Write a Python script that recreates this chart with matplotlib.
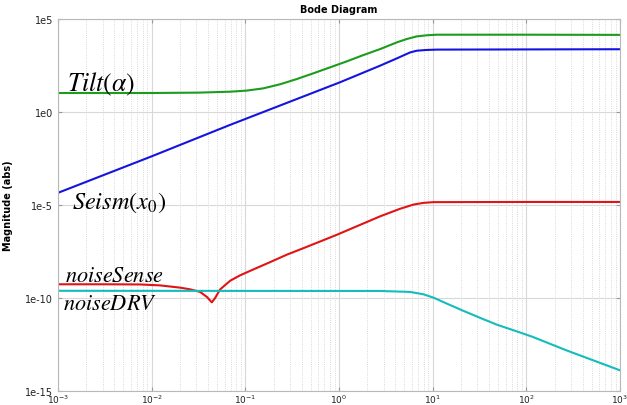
import numpy as np
import matplotlib
matplotlib.use("Agg")
from matplotlib import pyplot as plt
from matplotlib import ticker

# values, as log10(frequency) and log10(magnitude)
tilt_logf = [-3.0, -2.0, -1.5, -1.162, -0.984, -0.807, -0.628, -0.45, -0.272, -0.094,
             0.084, 0.262, 0.44, 0.618, 0.725, 0.83, 0.94, 1.045, 2.0, 3.0]
tilt_logm = [1.0, 1.0, 1.02, 1.07, 1.13, 1.25, 1.47, 1.75, 2.06, 2.38,
             2.70, 3.04, 3.36, 3.72, 3.90, 4.04, 4.10, 4.13, 4.13, 4.12]

seism_logf = [-3.0, -2.0, -1.162, -0.5, 0.013, 0.44, 0.618, 0.76, 0.83, 0.93, 1.05, 2.0, 3.0]
seism_logm = [-4.36, -2.40, -0.71, 0.58, 1.58, 2.47, 2.86, 3.18, 3.27, 3.31, 3.33, 3.34, 3.35]

sense_logf = [-3.0, -2.5, -2.124, -1.91, -1.697, -1.59, -1.483, -1.41, -1.358, -1.323,
              -1.27, -1.162, -1.056, -0.913, -0.735, -0.557, -0.379, -0.2, -0.022,
              0.44, 0.65, 0.796, 0.9, 1.01, 2.0, 3.0]
sense_logm = [-9.27, -9.27, -9.28, -9.33, -9.45, -9.54, -9.68, -9.95, -10.24, -10.01,
              -9.55, -9.08, -8.79, -8.47, -8.08, -7.68, -7.33, -6.97, -6.61,
              -5.62, -5.22, -4.99, -4.90, -4.86, -4.85, -4.85]

drv_logf = [-3.0, 0.44, 0.76, 0.903, 1.01, 1.152, 1.33, 1.51, 1.686, 1.864, 2.06, 2.43, 3.0]
drv_logm = [-9.62, -9.63, -9.68, -9.81, -9.99, -10.31, -10.70, -11.08, -11.44, -11.74,
            -12.08, -12.82, -13.89]

y_ticks = [1e-15, 1e-10, 1e-5, 1e0, 1e5]
y_labels = ["1e-15", "1e-10", "1e-5", "1e0", "1e5"]
x_ticks = [1e-3, 1e-2, 1e-1, 1e0, 1e1, 1e2, 1e3]

fig = plt.figure(figsize=(6.27, 4.06), dpi=100)
ax = fig.add_axes([58 / 627, 1 - 392 / 406, 562 / 627, 372.5 / 406])

ax.loglog(10 ** np.array(tilt_logf), 10 ** np.array(tilt_logm), color="#1c9c1c", lw=1.5)
ax.loglog(10 ** np.array(seism_logf), 10 ** np.array(seism_logm), color="#1414e0", lw=1.5)
ax.loglog(10 ** np.array(sense_logf), 10 ** np.array(sense_logm), color="#e01414", lw=1.5)
ax.loglog(10 ** np.array(drv_logf), 10 ** np.array(drv_logm), color="#14bcbc", lw=1.5)

ax.set_xlim(1e-3, 1e3)
ax.set_ylim(1e-15, 1e5)

ax.set_yticks(y_ticks)
ax.set_yticklabels(y_labels)
ax.yaxis.set_minor_locator(ticker.NullLocator())
ax.set_xticks(x_ticks)
ax.set_xticklabels(["$10^{%d}$" % e for e in range(-3, 4)])
ax.xaxis.set_minor_locator(ticker.LogLocator(base=10, subs=np.arange(2, 10)))
ax.xaxis.set_minor_formatter(ticker.NullFormatter())

ax.grid(True, which="major", color="#d8d8d8", lw=0.8, ls="-")
ax.grid(True, which="minor", axis="x", color="#cccccc", lw=0.6, ls=":")
ax.tick_params(which="both", direction="in", top=True, right=True, colors="#999999",
               labelcolor="#222222", labelsize=7, length=3)
ax.tick_params(axis="x", labelsize=6.5, pad=1.5)
ax.tick_params(which="minor", length=0)
for s in ax.spines.values():
    s.set_color("#b8b8b8")

ax.set_title("Bode Diagram", fontsize=7, fontweight="bold", pad=5)
ax.set_ylabel("Magnitude (abs)", fontsize=7, fontweight="bold", labelpad=9)

# curve names, like MATLAB latex annotations
ax.text(10 ** -2.904, 10 ** 1.16, r"$Tilt\left(\alpha\right)$", fontsize=18.5,
        math_fontfamily="stix", va="baseline", ha="left")
ax.text(10 ** -2.85, 10 ** -5.18, r"$Seism\left(x_0\right)$", fontsize=17.5,
        math_fontfamily="stix", va="baseline", ha="left")
ax.text(10 ** -2.925, 10 ** -9.12, r"$noiseSense$", fontsize=16,
        math_fontfamily="stix", va="baseline", ha="left")
ax.text(10 ** -2.947, 10 ** -10.58, r"$noiseDRV$", fontsize=16,
        math_fontfamily="stix", va="baseline", ha="left")

fig.savefig("out.png", dpi=100)
